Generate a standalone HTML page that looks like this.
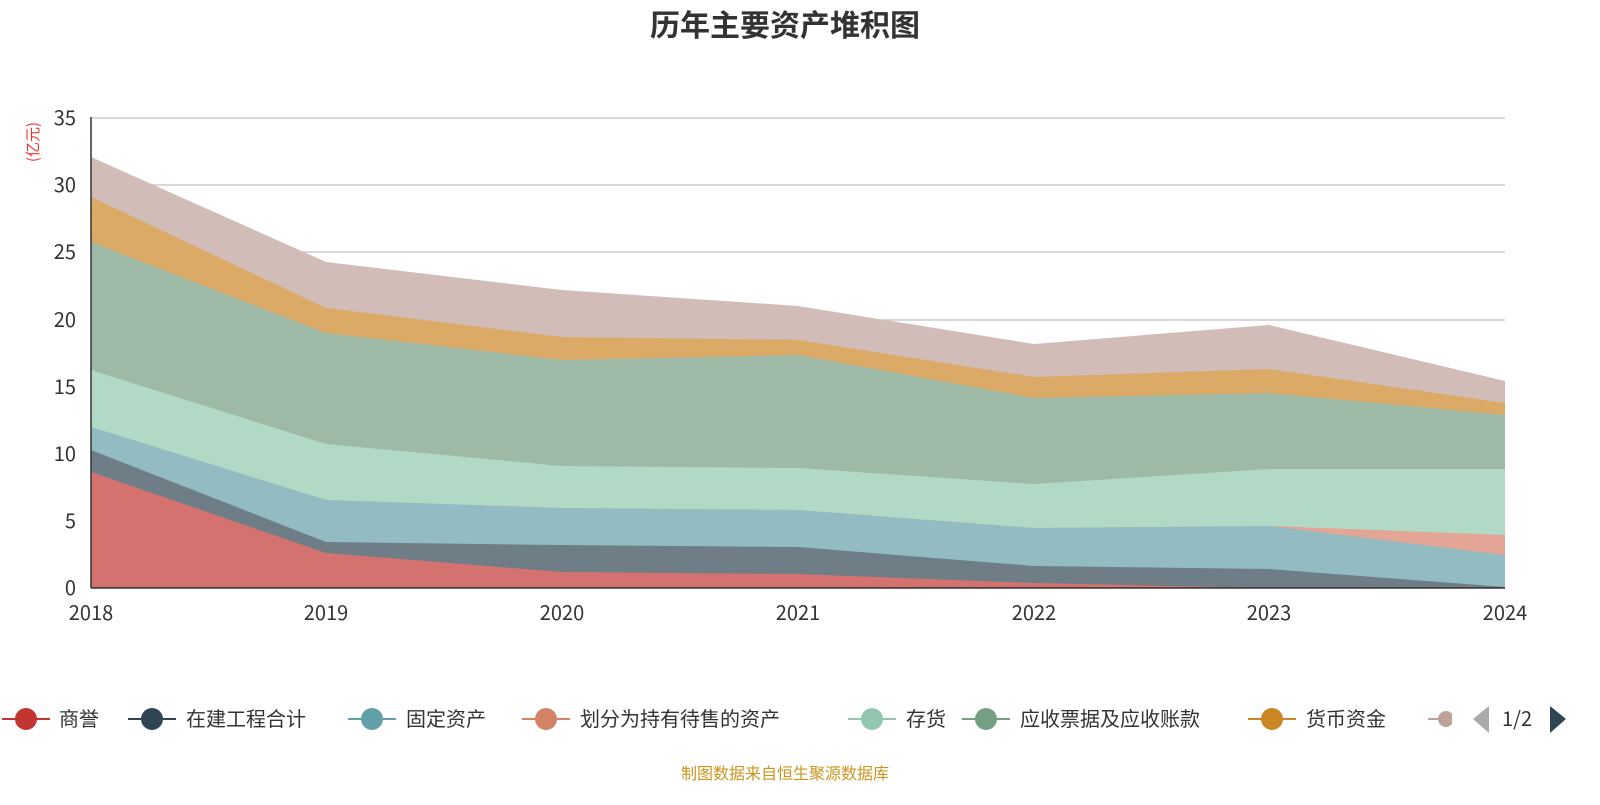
<!DOCTYPE html><html><head><meta charset="utf-8"><style>body{margin:0;background:#fff;font-family:"Noto Sans CJK SC","Liberation Sans",sans-serif}</style></head><body>
<svg width="1600" height="800" xmlns="http://www.w3.org/2000/svg" font-family="Noto Sans CJK SC, Liberation Sans, sans-serif">
<text x="785" y="36" text-anchor="middle" font-size="30" font-weight="bold" fill="#333">历年主要资产堆积图</text>
<text transform="translate(38,142) rotate(-90)" text-anchor="middle" font-size="15" fill="#e33">(亿元)</text>
<g stroke="#ccc" stroke-width="1.5">
<line x1="91" x2="1505" y1="118" y2="118"/><line x1="91" x2="1505" y1="185" y2="185"/><line x1="91" x2="1505" y1="252" y2="252"/><line x1="91" x2="1505" y1="320" y2="320"/><line x1="91" x2="1505" y1="387" y2="387"/><line x1="91" x2="1505" y1="454" y2="454"/><line x1="91" x2="1505" y1="521" y2="521"/></g>
<g>
<polygon fill="#d1bcb7" points="91,157 326,262 562,290 798,306 1034,344 1269,325 1505,381 1505,588 91,588"/>
<polygon fill="#dbaa67" points="91,197 326,308 562,337 798,340 1034,377 1269,369 1505,403 1505,588 91,588"/>
<polygon fill="#9eb9a5" points="91,242 326,333 562,360 798,355 1034,398 1269,393 1505,415 1505,588 91,588"/>
<polygon fill="#b2d9c6" points="91,370 326,444 562,466 798,468 1034,484 1269,469 1505,469 1505,588 91,588"/>
<polygon fill="#e3a595" points="91,427 326,500 562,508 798,510 1034,528 1269,526 1505,535 1505,588 91,588"/>
<polygon fill="#92bbc2" points="91,427 326,500 562,508 798,510 1034,528 1269,526 1505,555 1505,588 91,588"/>
<polygon fill="#6f7d87" points="91,450 326,542 562,545 798,547 1034,566 1269,569 1505,587 1505,588 91,588"/>
<polygon fill="#d47270" points="91,472 326,553 562,572 798,574 1034,583 1269,588 1505,588 1505,588 91,588"/>
</g>
<line x1="91" y1="117" x2="91" y2="588" stroke="#333" stroke-width="1.5"/>
<line x1="91" y1="588" x2="1505" y2="588" stroke="#333" stroke-width="1.5"/>
<g font-size="20" fill="#333" text-anchor="end">
<text x="76" y="125">35</text><text x="76" y="192">30</text><text x="76" y="259">25</text><text x="76" y="327">20</text><text x="76" y="394">15</text><text x="76" y="461">10</text><text x="76" y="528">5</text><text x="76" y="595">0</text></g>
<g font-size="20" fill="#333" text-anchor="middle">
<text x="91" y="620">2018</text><text x="326" y="620">2019</text><text x="562" y="620">2020</text><text x="798" y="620">2021</text><text x="1034" y="620">2022</text><text x="1269" y="620">2023</text><text x="1505" y="620">2024</text></g>
<g font-size="20" fill="#333">
<line x1="2" x2="50" y1="719" y2="719" stroke="#c23531" stroke-width="2"/><circle cx="26" cy="719" r="11" fill="#c23531"/><text x="59" y="726">商誉</text>
<line x1="128" x2="176" y1="719" y2="719" stroke="#2f4554" stroke-width="2"/><circle cx="152" cy="719" r="11" fill="#2f4554"/><text x="186" y="726">在建工程合计</text>
<line x1="348" x2="396" y1="719" y2="719" stroke="#61a0a8" stroke-width="2"/><circle cx="372" cy="719" r="11" fill="#61a0a8"/><text x="406" y="726">固定资产</text>
<line x1="522" x2="570" y1="719" y2="719" stroke="#d48265" stroke-width="2"/><circle cx="546" cy="719" r="11" fill="#d48265"/><text x="580" y="726">划分为持有待售的资产</text>
<line x1="848" x2="896" y1="719" y2="719" stroke="#91c7ae" stroke-width="2"/><circle cx="872" cy="719" r="11" fill="#91c7ae"/><text x="906" y="726">存货</text>
<line x1="962" x2="1010" y1="719" y2="719" stroke="#749f83" stroke-width="2"/><circle cx="986" cy="719" r="11" fill="#749f83"/><text x="1020" y="726">应收票据及应收账款</text>
<line x1="1248" x2="1296" y1="719" y2="719" stroke="#ca8622" stroke-width="2"/><circle cx="1272" cy="719" r="11" fill="#ca8622"/><text x="1306" y="726">货币资金</text>
<line x1="1428" x2="1450" y1="719" y2="719" stroke="#bda29a" stroke-width="2"/><circle cx="1446" cy="719" r="8" fill="#bda29a"/>
<rect x="1452" y="700" width="16" height="40" fill="#fff"/>
<polygon points="1489,706 1489,733 1473,719" fill="#aaa"/>
<text x="1502" y="726">1/2</text>
<polygon points="1550,706 1550,733 1566,719" fill="#2f4554"/>
</g>
<text x="785" y="779" text-anchor="middle" font-size="16" fill="#c8961e">制图数据来自恒生聚源数据库</text>
</svg></body></html>
